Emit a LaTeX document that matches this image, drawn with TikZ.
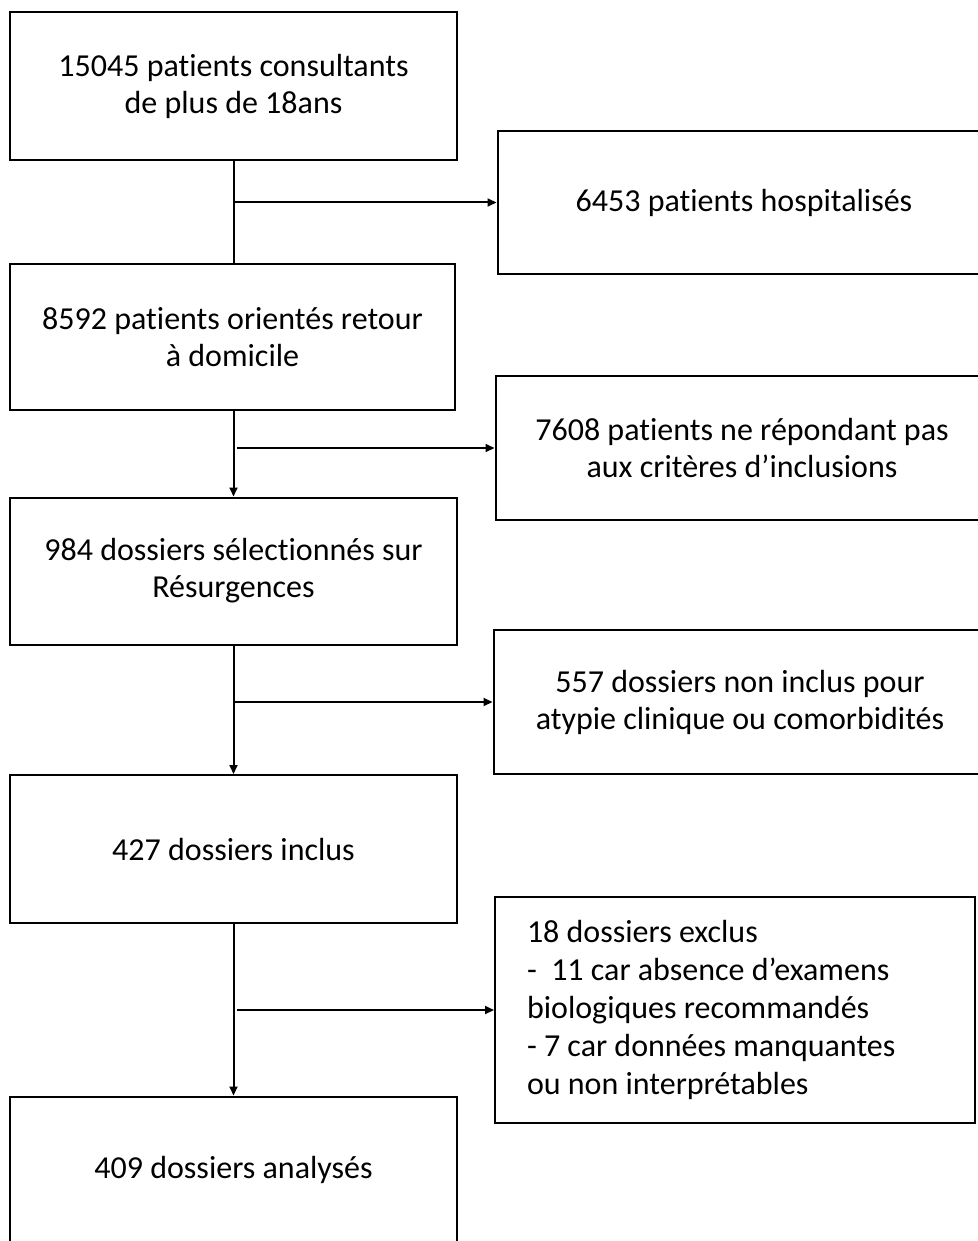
\documentclass[tikz,border=0pt]{standalone}
\usepackage{fontspec}
\setmainfont[Ligatures=NoCommon]{Carlito}
\usepackage{tikz}
\usetikzlibrary{arrows.meta}
\tikzset{
  box/.style={draw=black, line width=2pt, minimum width=447pt, minimum height=147pt, inner sep=0pt, align=center, font=\fontsize{32}{37}\selectfont},
  sidebox/.style={box, minimum width=493pt, minimum height=143pt},
  flow/.style={draw=black, line width=2pt, -{Triangle[length=9pt,width=8pt]}},
  link/.style={draw=black, line width=2pt}
}

\begin{document}
\begin{tikzpicture}[x=1pt, y=1pt]
  \useasboundingbox (0,0) rectangle (977,-1241);
  \fill[white] (0,0) rectangle (977,-1241);
  % main column
  \node[box, minimum height=148pt] (consult) at (233.5,-86) {15045 patients consultants\\de plus de 18ans};
  \node[box, minimum width=445pt, minimum height=146pt] (retour) at (232.5,-337) {8592 patients orientés retour\\à domicile};
  \node[box] (selection) at (233.5,-571) {984 dossiers sélectionnés sur\\Résurgences};
  \node[box, minimum height=148pt] (inclus) at (233.5,-849) {427 dossiers inclus};
  \node[box] (analyses) at (233.5,-1170) {409 dossiers analysés};
  % exclusions
  \node[sidebox] (hosp) at (744,-202.5) {6453 patients hospitalisés};
  \node[sidebox, minimum height=144pt] (criteres) at (742,-448) {7608 patients ne répondant pas\\aux critères d’inclusions};
  \node[sidebox, minimum height=144pt] (nonincl) at (740,-702) {557 dossiers non inclus pour\\atypie clinique ou comorbidités};
  \node[box, minimum width=480pt, minimum height=226pt, inner xsep=32pt, text width=416pt, align=flush left, font=\fontsize{32}{38.2}\selectfont] (exclus) at (735,-1010)
    {18 dossiers exclus\\-\ \ 11 car absence d’examens\\biologiques recommandés\\- 7 car données manquantes\\ou non interprétables};
  % connectors
  \coordinate (j2) at (237,-448);
  \coordinate (j4) at (237,-1010);
  \draw[link] (consult.south) -- (consult.south |- retour.north);
  \draw[flow] (consult.south |- retour.south) -- (consult.south |- selection.north);
  \draw[flow] (selection.south) -- (inclus.north);
  \draw[flow] (inclus.south) -- (analyses.north);
  \draw[flow] (consult.south |- hosp.west) -- (hosp.west);
  \draw[flow] (j2) -- (criteres.west);
  \draw[flow] (selection.south |- nonincl.west) -- (nonincl.west);
  \draw[flow] (j4) -- (exclus.west);
\end{tikzpicture}
\end{document}
